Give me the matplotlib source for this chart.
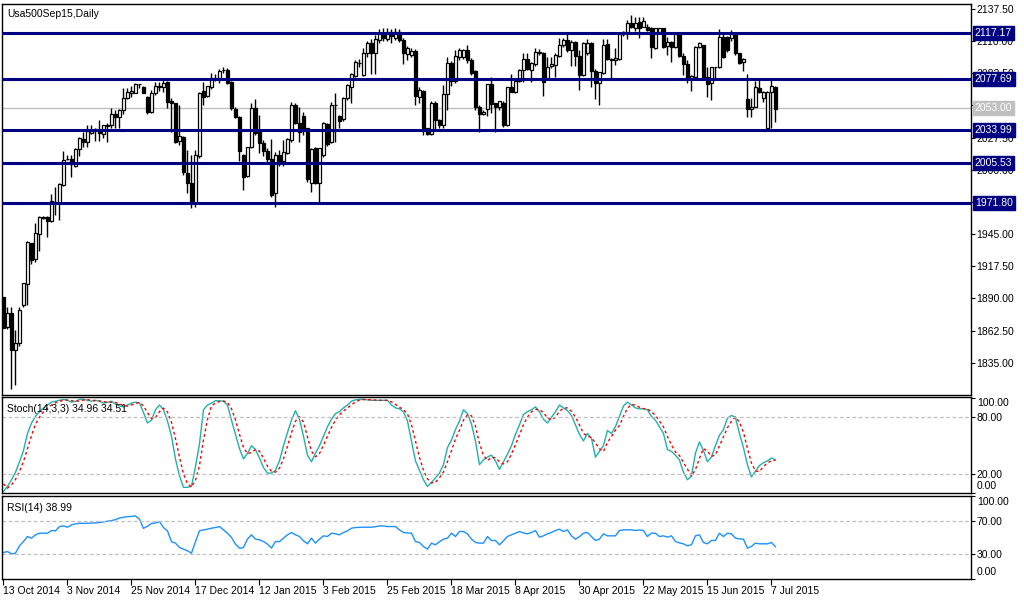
import matplotlib
matplotlib.use("Agg")
import matplotlib.pyplot as plt
import matplotlib.transforms as mtransforms


# -----------------------------
# Data
# -----------------------------

opens = [
    1891.0, 1865.3, 1877.3, 1846.0, 1852.2, 1884.4, 1902.4, 1937.1, 1923.5, 1945.1,
    1958.6, 1959.9, 1955.9, 1972.8, 1971.9, 1987.3, 2009.0, 2008.9, 2003.3, 2017.5,
    2026.0, 2024.0, 2031.7, 2034.3, 2034.0, 2031.0, 2037.8, 2038.0, 2047.7, 2045.0,
    2051.1, 2061.1, 2065.4, 2065.9, 2073.3, 2070.5, 2062.5, 2049.7, 2065.4, 2071.0,
    2071.0, 2075.3, 2059.0, 2056.8, 2024.9, 2028.3, 1997.0, 1988.4, 1971.3, 2011.8,
    2067.6, 2063.0, 2071.0, 2078.0, 2078.2, 2085.0, 2085.3, 2075.3, 2051.7, 2044.8,
    2012.6, 1994.7, 2019.2, 2052.5, 2034.0, 2022.6, 2016.3, 2009.0, 1979.9, 2012.6,
    2007.8, 2014.6, 2025.5, 2055.4, 2040.3, 2046.0, 2035.4, 1988.4, 2018.3, 1989.0,
    2012.6, 2039.1, 2024.0, 2055.4, 2046.0, 2043.1, 2061.1, 2070.5, 2080.2, 2091.0,
    2081.0, 2100.0, 2108.0, 2100.0, 2111.0, 2117.0, 2112.0, 2118.0, 2113.0, 2118.0,
    2111.0, 2099.0, 2098.1, 2101.8, 2062.0, 2067.6, 2035.4, 2030.6, 2056.8, 2042.6,
    2038.3, 2064.8, 2091.0, 2076.0, 2096.0, 2096.7, 2102.4, 2093.8, 2084.4, 2053.9,
    2048.0, 2051.7, 2073.3, 2057.0, 2053.9, 2057.4, 2038.3, 2070.5, 2066.8, 2076.2,
    2085.3, 2094.4, 2085.3, 2090.4, 2100.0, 2100.0, 2078.2, 2088.4, 2089.6, 2097.6,
    2106.7, 2110.9, 2102.4, 2109.5, 2097.3, 2081.0, 2100.0, 2108.1, 2084.7, 2073.9,
    2083.0, 2107.5, 2095.0, 2094.0, 2094.4, 2115.7, 2117.0, 2125.2, 2121.0, 2126.6,
    2122.0, 2122.0, 2120.9, 2103.8, 2118.0, 2120.9, 2105.8, 2109.5, 2105.2, 2116.1,
    2097.3, 2090.4, 2078.2, 2079.6, 2104.7, 2106.7, 2079.6, 2073.9, 2087.6, 2087.6,
    2113.2, 2113.2, 2112.4, 2116.1, 2099.5, 2092.5, 2060.2, 2051.7, 2054.0, 2069.6,
    2061.0, 2035.4, 2066.8, 2071.0,
]

highs = [
    1891.5, 1883.0, 1882.4, 1863.1, 1883.0, 1903.5, 1939.1, 1937.7, 1954.8, 1960.5,
    1960.5, 1960.5, 1979.3, 1985.0, 1988.4, 2016.3, 2013.0, 2012.6, 2018.3, 2027.7,
    2032.6, 2038.3, 2038.3, 2035.4, 2042.6, 2038.6, 2039.7, 2052.5, 2051.0, 2051.7,
    2069.6, 2069.6, 2071.6, 2074.5, 2073.6, 2071.6, 2063.0, 2068.2, 2075.0, 2075.3,
    2076.7, 2076.2, 2061.0, 2057.4, 2055.4, 2028.9, 2016.9, 2012.6, 2016.9, 2066.8,
    2075.3, 2072.0, 2082.4, 2081.9, 2085.9, 2087.6, 2086.7, 2076.2, 2053.3, 2046.0,
    2013.5, 2019.7, 2057.4, 2060.2, 2046.8, 2025.5, 2018.3, 2026.0, 2015.5, 2016.9,
    2025.5, 2027.0, 2058.2, 2057.4, 2054.0, 2049.0, 2036.0, 2018.3, 2019.1, 2019.0,
    2041.0, 2040.0, 2058.0, 2066.0, 2047.0, 2062.0, 2073.0, 2083.0, 2094.0, 2095.0,
    2104.0, 2110.0, 2112.0, 2115.0, 2120.0, 2121.0, 2121.0, 2120.0, 2121.0, 2120.0,
    2113.0, 2106.0, 2104.0, 2103.0, 2071.0, 2068.5, 2036.0, 2059.0, 2059.0, 2043.0,
    2072.5, 2096.0, 2093.0, 2102.0, 2104.0, 2103.0, 2106.7, 2095.3, 2085.3, 2055.4,
    2051.0, 2073.5, 2079.6, 2057.4, 2059.1, 2059.1, 2071.0, 2081.9, 2077.0, 2086.0,
    2099.5, 2099.5, 2092.0, 2104.0, 2103.0, 2101.0, 2096.7, 2096.7, 2099.5, 2112.4,
    2112.4, 2118.0, 2110.9, 2110.0, 2102.4, 2109.5, 2111.5, 2109.5, 2086.0, 2084.0,
    2111.5, 2111.5, 2095.3, 2103.8, 2118.0, 2118.9, 2128.0, 2132.3, 2130.9, 2130.3,
    2130.3, 2124.6, 2122.3, 2121.5, 2121.5, 2121.5, 2113.8, 2110.0, 2117.0, 2117.0,
    2099.5, 2093.8, 2081.0, 2106.0, 2109.5, 2107.0, 2087.6, 2087.6, 2088.0, 2120.0,
    2116.0, 2114.0, 2119.5, 2117.0, 2099.5, 2095.3, 2081.9, 2061.0, 2076.2, 2076.7,
    2067.0, 2067.0, 2076.7, 2071.6,
]

lows = [
    1864.5, 1863.6, 1812.4, 1816.1, 1849.4, 1883.0, 1884.4, 1919.5, 1921.2, 1930.9,
    1958.0, 1942.8, 1955.4, 1961.4, 1957.1, 1986.1, 2008.0, 1994.1, 2002.7, 2012.0,
    2019.2, 2019.2, 2030.6, 2024.9, 2024.9, 2027.0, 2024.0, 2035.4, 2035.4, 2035.4,
    2047.7, 2060.2, 2061.9, 2065.4, 2069.6, 2065.4, 2047.7, 2048.8, 2064.0, 2067.6,
    2066.8, 2052.5, 2032.6, 2022.6, 2021.2, 1995.6, 1979.9, 1967.1, 1968.5, 2009.8,
    2055.4, 2061.9, 2068.8, 2076.2, 2074.5, 2082.4, 2073.3, 2051.1, 2044.0, 2007.8,
    1982.7, 1993.5, 2018.3, 2029.7, 2014.0, 2011.5, 2007.0, 1977.0, 1968.5, 2003.3,
    2003.3, 2013.5, 2024.0, 2039.0, 2024.0, 2029.7, 1989.8, 1981.3, 1987.8, 1972.0,
    2011.0, 2020.0, 2023.0, 2024.0, 2035.4, 2042.0, 2060.0, 2057.4, 2079.0, 2088.0,
    2080.0, 2096.0, 2082.0, 2082.0, 2108.0, 2110.0, 2110.0, 2108.0, 2111.0, 2109.0,
    2090.0, 2094.0, 2096.0, 2055.4, 2057.0, 2029.7, 2029.7, 2029.7, 2034.0, 2036.0,
    2035.4, 2051.0, 2072.0, 2074.0, 2094.0, 2095.0, 2091.0, 2081.0, 2051.1, 2032.6,
    2047.0, 2046.0, 2048.3, 2032.6, 2051.0, 2036.9, 2037.0, 2066.8, 2066.0, 2075.0,
    2075.3, 2085.3, 2075.3, 2089.0, 2098.1, 2063.1, 2078.0, 2087.0, 2079.6, 2096.7,
    2105.0, 2101.0, 2088.4, 2088.4, 2068.2, 2080.0, 2098.0, 2071.0, 2060.2, 2055.4,
    2082.0, 2093.8, 2078.2, 2089.6, 2093.8, 2114.3, 2111.5, 2120.9, 2118.9, 2112.4,
    2121.8, 2118.9, 2095.3, 2103.0, 2117.4, 2103.8, 2098.1, 2092.0, 2104.0, 2096.7,
    2081.0, 2074.5, 2067.6, 2078.5, 2104.0, 2079.6, 2061.9, 2060.0, 2078.2, 2086.7,
    2095.3, 2101.0, 2110.4, 2098.1, 2090.4, 2084.7, 2045.4, 2045.4, 2053.3, 2065.9,
    2058.2, 2033.4, 2035.4, 2041.1,
]

closes = [
    1864.5, 1877.3, 1846.0, 1851.7, 1880.2, 1903.0, 1938.3, 1922.9, 1945.7, 1959.4,
    1959.4, 1955.9, 1973.6, 1971.3, 1987.8, 2008.4, 2009.5, 2005.0, 2017.5, 2026.9,
    2024.0, 2033.4, 2034.0, 2034.6, 2031.7, 2038.3, 2038.1, 2047.7, 2045.0, 2051.1,
    2061.1, 2066.5, 2067.6, 2073.3, 2073.4, 2065.4, 2049.7, 2065.4, 2071.6, 2071.8,
    2074.5, 2058.2, 2056.8, 2024.0, 2028.9, 1998.4, 1988.4, 1971.3, 2012.6, 2065.4,
    2062.5, 2071.6, 2078.2, 2078.5, 2084.7, 2085.3, 2074.5, 2052.5, 2044.8, 2016.3,
    1993.5, 2019.2, 2052.5, 2031.2, 2022.6, 2016.3, 2009.0, 1978.5, 2012.6, 2006.9,
    2015.5, 2026.0, 2055.4, 2040.3, 2032.6, 2034.0, 1991.8, 2017.5, 1988.4, 2018.3,
    2039.7, 2022.0, 2055.4, 2055.6, 2042.0, 2061.1, 2072.5, 2081.9, 2092.4, 2091.3,
    2100.0, 2108.0, 2100.0, 2112.0, 2117.0, 2113.0, 2118.0, 2114.0, 2118.0, 2111.0,
    2100.0, 2104.0, 2101.8, 2063.1, 2068.0, 2035.4, 2030.6, 2056.8, 2042.6, 2038.3,
    2064.8, 2091.0, 2076.0, 2097.3, 2102.0, 2102.4, 2093.8, 2082.4, 2053.9, 2047.7,
    2049.5, 2073.3, 2056.2, 2054.0, 2059.1, 2038.3, 2070.5, 2066.8, 2076.2, 2085.3,
    2094.4, 2085.9, 2091.5, 2101.0, 2100.3, 2075.3, 2087.6, 2090.4, 2098.1, 2106.7,
    2110.9, 2102.4, 2109.5, 2097.3, 2081.0, 2108.7, 2108.7, 2084.7, 2073.9, 2083.9,
    2106.7, 2094.4, 2093.8, 2095.3, 2116.1, 2117.5, 2125.2, 2122.3, 2125.7, 2121.0,
    2127.5, 2119.5, 2104.7, 2120.9, 2120.9, 2104.7, 2109.5, 2105.2, 2116.1, 2097.3,
    2090.4, 2078.2, 2080.0, 2105.2, 2108.7, 2079.6, 2073.3, 2087.6, 2088.0, 2113.2,
    2096.7, 2102.4, 2116.1, 2099.5, 2091.6, 2094.4, 2051.7, 2054.0, 2070.5, 2066.8,
    2066.8, 2066.8, 2071.6, 2051.7,
]

stoch_k = [
    1.7, 7, 14, 22, 33, 45, 63, 74, 81, 86,
    90, 93, 96, 97, 98, 99, 98, 96, 97, 99,
    99, 98, 97, 98, 97, 95, 96, 97, 94, 92,
    91, 93, 95, 96, 95.5, 85, 74, 77, 88, 93,
    88, 76, 60, 36, 18, 6, 6, 7, 28, 52,
    88, 93, 95, 97.5, 97.5, 97, 93, 77, 62, 47,
    36, 42, 50, 46, 37, 27, 21, 21, 24, 34,
    50, 64, 77, 87, 78, 60, 40, 33, 42, 50,
    60, 70, 78, 84, 86, 90, 93, 97, 98.5, 99,
    99, 98.5, 98, 98, 98, 98, 98, 93, 90, 89,
    86, 76, 55, 34, 24, 14, 7, 11, 16, 21,
    30, 48, 56, 67, 76, 88, 84, 73, 55, 30,
    35, 38, 40, 34, 25, 33, 41, 50, 62, 72,
    83, 86, 88, 91, 86, 78, 74, 80, 86, 93,
    90, 87, 82, 72, 62, 55, 63, 58, 38, 44,
    50, 66, 63, 70, 81, 92, 96, 93, 90, 89,
    89, 88, 81, 77, 70, 63, 46, 44, 40, 35,
    22, 14, 18, 42, 54, 45, 33, 38, 50, 61,
    67, 79, 82, 80, 63, 48, 30, 17, 23, 29,
    32, 34, 37, 34.96,
]

stoch_d = [
    9.7, 5.2, 8.7, 14.3, 23, 33.3, 47, 60.7, 72.7, 80.3,
    85.7, 89.7, 93, 95.3, 97, 98, 98.3, 97.7, 97, 97.3,
    98.3, 98.7, 98, 97.7, 97.3, 96.7, 96, 96, 95.7, 94.3,
    92.3, 92, 93, 94.7, 95.5, 92.2, 84.8, 78.7, 79.7, 86,
    89.7, 85.7, 74.7, 57.3, 38, 20, 10, 6.3, 13.7, 29,
    56, 77.7, 92, 95.2, 96.7, 97.3, 95.8, 89, 77.3, 62,
    48.3, 41.7, 42.7, 46, 44.3, 36.7, 28.3, 23, 22, 26.3,
    36, 49.3, 63.7, 76, 80.7, 75, 59.3, 44.3, 38.3, 41.7,
    50.7, 60, 69.3, 77.3, 82.7, 86.7, 89.7, 93.3, 96.2, 98.2,
    98.8, 98.8, 98.5, 98.2, 98, 98, 98, 96.3, 93.7, 90.7,
    88.3, 83.7, 72.3, 55, 37.7, 24, 15, 10.7, 11.3, 16,
    22.3, 33, 44.7, 57, 66.3, 77, 82.7, 81.7, 70.7, 52.7,
    40, 34.3, 37.7, 37.3, 33, 30.7, 33, 41.3, 51, 61.3,
    72.3, 80.3, 85.7, 88.3, 88.3, 85, 79.3, 77.3, 80, 86.3,
    89.7, 90, 86.3, 80.3, 72, 63, 60, 58.7, 53, 46.7,
    44, 53.3, 59.7, 66.3, 71.3, 81, 89.7, 93.7, 93, 90.7,
    89.3, 88.7, 86, 82, 76, 70, 59.7, 51, 43.3, 39.7,
    32.3, 25.3, 18, 24.7, 36.7, 47, 44.3, 38.7, 40.3, 49.7,
    59.3, 69, 76, 80.3, 75, 64.3, 47, 31.7, 23.3, 22.7,
    28, 31.7, 34.3, 34.51,
]

rsi = [
    31.9, 33.1, 30.3, 31.1, 40, 45.2, 51.2, 49.2, 53.2, 55.2,
    55.2, 55.2, 58.4, 58.0, 63.2, 64, 62.4, 65.2, 66.4, 67.2,
    67.0, 67.2, 67.4, 67.6, 68, 68.8, 69.6, 70.4, 71.5, 73.5,
    74.4, 75.2, 75.4, 76, 72, 61, 63.5, 67, 67.4, 69.2,
    62, 58, 45, 43.2, 38, 36, 34, 31.1, 45, 58,
    59.2, 60, 61.2, 62, 63.2, 59.2, 55.2, 50, 42, 37,
    38, 48, 53.2, 48, 47.2, 45.2, 42, 37.2, 45.2, 45,
    49.2, 53.2, 56, 53.2, 51.2, 46, 42.4, 49.2, 43.2, 48,
    52, 51.2, 55.2, 54.4, 53.2, 56, 58, 61.2, 62, 62.2,
    62.4, 62.4, 62.4, 63, 64, 63.8, 63.2, 63.2, 63.2, 59.2,
    56, 55.5, 55.2, 45.2, 44, 39.2, 36, 43.2, 41.2, 45,
    48, 49.2, 55.2, 51.2, 57.2, 57.2, 54.4, 48, 44, 43.2,
    43.2, 51.2, 46.4, 46.4, 41.2, 46, 51.2, 53.2, 55.2, 57.2,
    55.5, 54.4, 56, 58.4, 50.4, 52, 54.4, 56, 58.4, 60,
    57.2, 59.2, 52, 48, 51, 55.2, 56, 51.2, 46.4, 48,
    54.4, 52, 52, 52, 58.4, 59.2, 59.2, 59.2, 58.4, 59.2,
    58.4, 51.2, 55.2, 55.2, 51.2, 52, 50.4, 52, 45.2, 43.5,
    42.4, 40, 41.2, 52, 53.2, 44, 42.4, 46.4, 46.4, 55.2,
    51.2, 55.2, 54.4, 49.2, 48.4, 48, 37.2, 39.2, 43.2, 42.4,
    42.4, 42.4, 44, 38.99,
]

date_labels = [
    "13 Oct 2014", "3 Nov 2014", "25 Nov 2014", "17 Dec 2014",
    "12 Jan 2015", "3 Feb 2015", "25 Feb 2015", "18 Mar 2015",
    "8 Apr 2015", "30 Apr 2015", "22 May 2015", "15 Jun 2015",
    "7 Jul 2015",
]
date_bars = [0, 16, 32, 48, 64, 80, 96, 112, 128, 144, 160, 176, 192]

level_prices = [2117.17, 2077.69, 2033.99, 2005.53, 1971.80]
bid_price = 2053.00

price_ticks = [1835.0, 1862.5, 1890.0, 1917.5, 1945.0, 1972.5, 2000.0,
               2027.5, 2055.0, 2082.5, 2110.0, 2137.5]


# -----------------------------
# Layout (pixel based)
# -----------------------------

W, H = 1024, 600
LEFT, RIGHT = 2, 971


def panel(top, bottom):
    return [LEFT / W, 1 - bottom / H, (RIGHT - LEFT) / W, (bottom - top) / H]


plt.rcParams["font.family"] = ["Liberation Sans", "DejaVu Sans"]
plt.rcParams["font.size"] = 7.5

fig = plt.figure(figsize=(W / 100, H / 100), dpi=100)
fig.patch.set_facecolor("white")

ax = fig.add_axes(panel(4, 395))
ax_st = fig.add_axes(panel(397, 493), sharex=ax)
ax_rsi = fig.add_axes(panel(496, 579), sharex=ax)

x = list(range(len(closes)))
navy = "#000080"


# -----------------------------
# Candles
# -----------------------------

ax.vlines(x, lows, highs, color="black", linewidth=1, zorder=2)

bottoms = [min(o, c) for o, c in zip(opens, closes)]
heights = [abs(c - o) for o, c in zip(opens, closes)]
faces = ["white" if c >= o else "black" for o, c in zip(opens, closes)]

ax.bar(x, heights, bottom=bottoms, width=0.58, color=faces,
       edgecolor="black", linewidth=0.9, zorder=3)

for p in level_prices:
    ax.axhline(p, color=navy, linewidth=2.2, zorder=4)
ax.axhline(bid_price, color="#C0C0C0", linewidth=1, zorder=1)

ax.set_ylim(1807.5, 2141.7)
ax.set_yticks(price_ticks)
ax.set_yticklabels(["%.2f" % t for t in price_ticks])

ax.text(0.005, 0.988, "Usa500Sep15,Daily", transform=ax.transAxes,
        ha="left", va="top")

lab_tr = mtransforms.blended_transform_factory(ax.transAxes, ax.transData)
for p in level_prices:
    ax.text(1.004, p, "%.2f" % p, transform=lab_tr, ha="left", va="center",
            color="white", clip_on=False, zorder=10,
            bbox=dict(boxstyle="square,pad=0.2", fc=navy, ec=navy))
ax.text(1.004, bid_price, "%.2f" % bid_price, transform=lab_tr, ha="left",
        va="center", color="white", clip_on=False, zorder=10,
        bbox=dict(boxstyle="square,pad=0.2", fc="#C0C0C0", ec="#C0C0C0"))


# -----------------------------
# Stochastic
# -----------------------------

ax_st.plot(x, stoch_k, color="#20B2AA", linewidth=1)
ax_st.plot(x, stoch_d, color="red", linewidth=1, linestyle=(0, (2, 2)))
for lv in (20, 80):
    ax_st.axhline(lv, color="#C0C0C0", linewidth=0.9, linestyle=(0, (3, 2)))
ax_st.set_ylim(0, 101.5)
ax_st.set_yticks([0, 20, 80, 100])
ax_st.set_yticklabels(["", "20.00", "80.00", ""])
ax_st.text(1.006, 0.985, "100.00", transform=ax_st.transAxes,
           ha="left", va="top")
ax_st.text(1.006, 0.02, "0.00", transform=ax_st.transAxes,
           ha="left", va="bottom")
ax_st.text(0.005, 0.93, "Stoch(14,3,3) 34.96 34.51", transform=ax_st.transAxes,
           ha="left", va="top")


# -----------------------------
# RSI
# -----------------------------

ax_rsi.plot(x, rsi, color="#1E90FF", linewidth=1)
for lv in (30, 70):
    ax_rsi.axhline(lv, color="#C0C0C0", linewidth=0.9, linestyle=(0, (3, 2)))
ax_rsi.set_ylim(0, 100)
ax_rsi.set_yticks([0, 30, 70, 100])
ax_rsi.set_yticklabels(["", "30.00", "70.00", ""])
ax_rsi.text(1.006, 0.985, "100.00", transform=ax_rsi.transAxes,
            ha="left", va="top")
ax_rsi.text(1.006, 0.02, "0.00", transform=ax_rsi.transAxes,
            ha="left", va="bottom")
ax_rsi.text(0.005, 0.92, "RSI(14) 38.99", transform=ax_rsi.transAxes,
            ha="left", va="top")


# -----------------------------
# Axes styling
# -----------------------------

for a in (ax, ax_st, ax_rsi):
    a.set_facecolor("white")
    a.yaxis.tick_right()
    a.tick_params(axis="y", direction="out", length=3, width=0.8, pad=1,
                  labelsize=7.5)
    for s in a.spines.values():
        s.set_linewidth(1)
        s.set_color("black")

ax.set_xlim(-0.375, 241.9)
ax.tick_params(axis="x", bottom=False, labelbottom=False)
ax_st.tick_params(axis="x", bottom=False, labelbottom=False)

ax_rsi.set_xticks(date_bars)
ax_rsi.set_xticklabels(date_labels)
ax_rsi.tick_params(axis="x", direction="out", length=4, width=0.8, pad=1,
                   labelsize=7.5)
for t in ax_rsi.get_xticklabels():
    t.set_ha("left")

fig.savefig("out.png", dpi=100, facecolor="white")
plt.close(fig)

print("Chart created successfully!")
